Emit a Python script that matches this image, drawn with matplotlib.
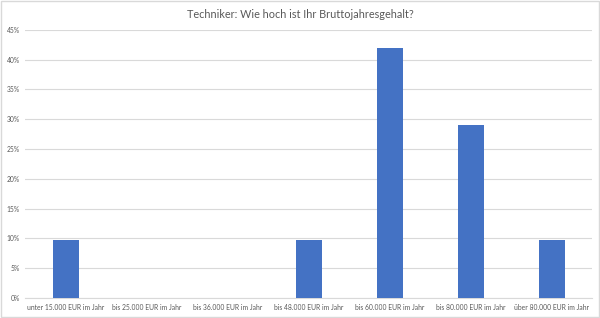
import matplotlib
matplotlib.use("Agg")
import matplotlib.pyplot as plt
from matplotlib.ticker import FuncFormatter, MultipleLocator
from matplotlib.patches import Rectangle

categories = ["unter 15.000 EUR im Jahr", "bis 25.000 EUR im Jahr", "bis 36.000 EUR im Jahr",
              "bis 48.000 EUR im Jahr", "bis 60.000 EUR im Jahr", "bis 80.000 EUR im Jahr",
              "über 80.000 EUR im Jahr"]
values = [0.0968, 0.0, 0.0, 0.0968, 0.4194, 0.2903, 0.0968]
title = "Techniker: Wie hoch ist Ihr Bruttojahresgehalt?"

plt.rcParams['font.family'] = ['Lato', 'DejaVu Sans']

fig = plt.figure(figsize=(6, 3.18), dpi=100)
ax = fig.add_axes([0.042, 0.063, 0.945, 0.843])
x = range(len(categories))
ax.bar(x, values, width=0.32, color="#4472C4", zorder=3)
ax.set_xlim(-0.5, len(categories) - 0.5)
ax.set_ylim(0, 0.45)
ax.yaxis.set_major_locator(MultipleLocator(0.05))
ax.yaxis.set_major_formatter(FuncFormatter(lambda v, p: f"{v*100:.0f}%"))
ax.grid(axis="y", color="#D9D9D9", linewidth=0.8, zorder=0)
for s in ["top", "right", "left"]:
    ax.spines[s].set_visible(False)
ax.spines["bottom"].set_color("#D9D9D9")
ax.set_xticks(list(x))
ax.set_xticklabels(categories)
ax.tick_params(axis="both", length=0, labelsize=4.9, labelcolor="#595959", pad=4)
fig.text(0.5, 0.955, title, ha="center", va="center", fontsize=7.8, color="#595959")
fig.patches.append(Rectangle((0.002, 0.003), 0.996, 0.994, transform=fig.transFigure,
                             fill=False, edgecolor="#D9D9D9", linewidth=1))
fig.savefig("out.png", dpi=100)
